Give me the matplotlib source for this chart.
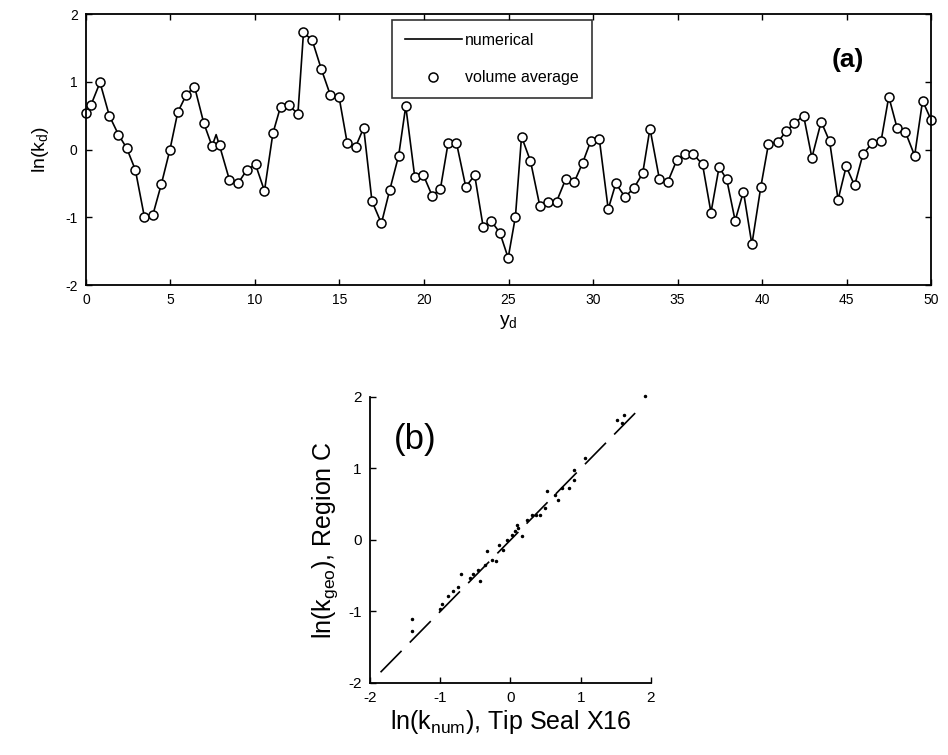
import matplotlib
matplotlib.use("Agg")
from matplotlib import pyplot as plt

plt.rcParams['font.family'] = ['Liberation Sans', 'DejaVu Sans']
plt.rcParams['axes.unicode_minus'] = False

# panel (a): volume average markers along y_d
y_d = [0.0, 0.3, 0.83, 1.38, 1.92, 2.41, 2.92, 3.46, 3.95, 4.46,
       4.96, 5.43, 5.92, 6.42, 6.97, 7.46, 7.90, 8.49, 9.02, 9.52,
       10.03, 10.56, 11.06, 11.51, 12.00, 12.54, 12.87, 13.39, 13.92, 14.45,
       14.97, 15.46, 15.95, 16.43, 16.92, 17.48, 17.97, 18.50, 18.92, 19.45,
       19.95, 20.48, 20.97, 21.43, 21.92, 22.47, 23.00, 23.50, 23.99, 24.49,
       24.98, 25.41, 25.77, 26.30, 26.85, 27.35, 27.84, 28.38, 28.89, 29.38,
       29.86, 30.37, 30.90, 31.35, 31.89, 32.42, 32.94, 33.37, 33.93, 34.42,
       34.95, 35.44, 35.94, 36.48, 36.98, 37.46, 37.91, 38.41, 38.90, 39.40,
       39.93, 40.38, 40.93, 41.43, 41.92, 42.46, 42.95, 43.50, 44.00, 44.50,
       44.98, 45.48, 45.97, 46.50, 47.04, 47.50, 47.99, 48.48, 49.03, 49.50,
       50.00]
ln_kd = [0.54, 0.66, 0.99, 0.50, 0.22, 0.02, -0.30, -1.00, -0.97, -0.51,
         -0.01, 0.55, 0.80, 0.93, 0.39, 0.05, 0.06, -0.45, -0.49, -0.30,
         -0.22, -0.61, 0.24, 0.63, 0.65, 0.53, 1.73, 1.61, 1.19, 0.81,
         0.78, 0.09, 0.04, 0.32, -0.76, -1.09, -0.60, -0.09, 0.64, -0.40,
         -0.37, -0.68, -0.58, 0.10, 0.10, -0.55, -0.38, -1.14, -1.06, -1.23,
         -1.60, -0.99, 0.19, -0.17, -0.83, -0.77, -0.77, -0.44, -0.48, -0.20,
         0.12, 0.16, -0.88, -0.50, -0.70, -0.57, -0.35, 0.31, -0.44, -0.48,
         -0.16, -0.07, -0.07, -0.22, -0.93, -0.26, -0.44, -1.05, -0.62, -1.40,
         -0.55, 0.08, 0.11, 0.27, 0.39, 0.50, -0.12, 0.41, 0.12, -0.74,
         -0.25, -0.53, -0.07, 0.09, 0.12, 0.78, 0.32, 0.26, -0.09, 0.72,
         0.44]

# numerical curve: same samples plus one small spike without a marker
y_d_num = y_d[:16] + [7.70] + y_d[16:]
ln_kd_num = ln_kd[:16] + [0.22] + ln_kd[16:]

# panel (b): scatter of ln(k_num) vs ln(k_geo)
k_num = [-1.40, -1.40, -1.01, -0.98, -0.89, -0.82, -0.75, -0.70, -0.58, -0.53,
         -0.46, -0.44, -0.36, -0.34, -0.27, -0.20, -0.17, -0.10, -0.05, 0.02,
         0.06, 0.09, 0.11, 0.16, 0.23, 0.30, 0.37, 0.42, 0.49, 0.52,
         0.64, 0.68, 0.73, 0.83, 0.90, 0.90, 1.06, 1.52, 1.59, 1.61, 1.92]
k_geo = [-1.27, -1.11, -0.97, -0.90, -0.79, -0.72, -0.66, -0.48, -0.53, -0.48,
         -0.42, -0.58, -0.35, -0.16, -0.28, -0.30, -0.07, -0.14, 0.00, 0.07,
         0.12, 0.21, 0.17, 0.05, 0.28, 0.35, 0.35, 0.35, 0.45, 0.68,
         0.63, 0.56, 0.73, 0.73, 0.84, 0.98, 1.15, 1.68, 1.64, 1.75, 2.01]
diag = [-1.85, 1.85]

fig = plt.figure(figsize=(9.48, 7.55), dpi=100)

# ---- panel (a)
ax1 = fig.add_axes([0.0907, 0.6225, 0.8914, 0.3589])
ax1.plot(y_d_num, ln_kd_num, color='black', lw=1.2, label='numerical')
ax1.plot(y_d, ln_kd, linestyle='none', marker='o', ms=6.5, mfc='white',
         mec='black', mew=1.1, clip_on=False, label='volume average')
ax1.set_xlim(0, 50)
ax1.set_ylim(-2, 2)
ax1.set_xticks(range(0, 51, 5))
ax1.set_yticks([-2, -1, 0, 1, 2])
ax1.tick_params(direction='in', length=4, width=1, top=True, right=True,
                labelsize=10, pad=6)
for s in ax1.spines.values():
    s.set_linewidth(1.3)
ax1.set_xlabel(r'$\mathregular{y_d}$', fontsize=14, labelpad=4)
ax1.set_ylabel(r'$\mathregular{ln(k_d)}$', fontsize=14, labelpad=10)
ax1.text(0.901, 0.83, '(a)', transform=ax1.transAxes, fontsize=19,
         fontweight='bold', ha='center', va='center')
leg = ax1.legend(loc='upper left', bbox_to_anchor=(0.362, 0.978),
                 fontsize=11.5, frameon=True, fancybox=False, handlelength=3.6,
                 labelspacing=1.4, borderpad=0.8, handletextpad=0.2,
                 borderaxespad=0.0)
leg.get_frame().set_edgecolor('black')
leg.get_frame().set_linewidth(1.2)

# ---- panel (b)
ax2 = fig.add_axes([0.3903, 0.0954, 0.2964, 0.3788])
ax2.plot(diag, diag, color='black', lw=1.2, dashes=(18, 7))
ax2.plot(k_num, k_geo, linestyle='none', marker='.', ms=3, color='black',
         clip_on=False)
ax2.set_xlim(-2, 2)
ax2.set_ylim(-2, 2)
ax2.set_xticks([-2, -1, 0, 1, 2])
ax2.set_yticks([-2, -1, 0, 1, 2])
ax2.spines['top'].set_visible(False)
ax2.spines['right'].set_visible(False)
for s in ('left', 'bottom'):
    ax2.spines[s].set_linewidth(1.3)
ax2.tick_params(direction='in', length=4, width=1, labelsize=11, pad=6)
ax2.set_xlabel(r'$\mathregular{ln(k_{num})}$, Tip Seal X16', fontsize=18,
               labelpad=2)
ax2.set_ylabel(r'$\mathregular{ln(k_{geo})}$, Region C', fontsize=18,
               labelpad=6)
ax2.text(-1.35, 1.4, '(b)', fontsize=25, ha='center', va='center')

fig.savefig('out.png', dpi=100)
